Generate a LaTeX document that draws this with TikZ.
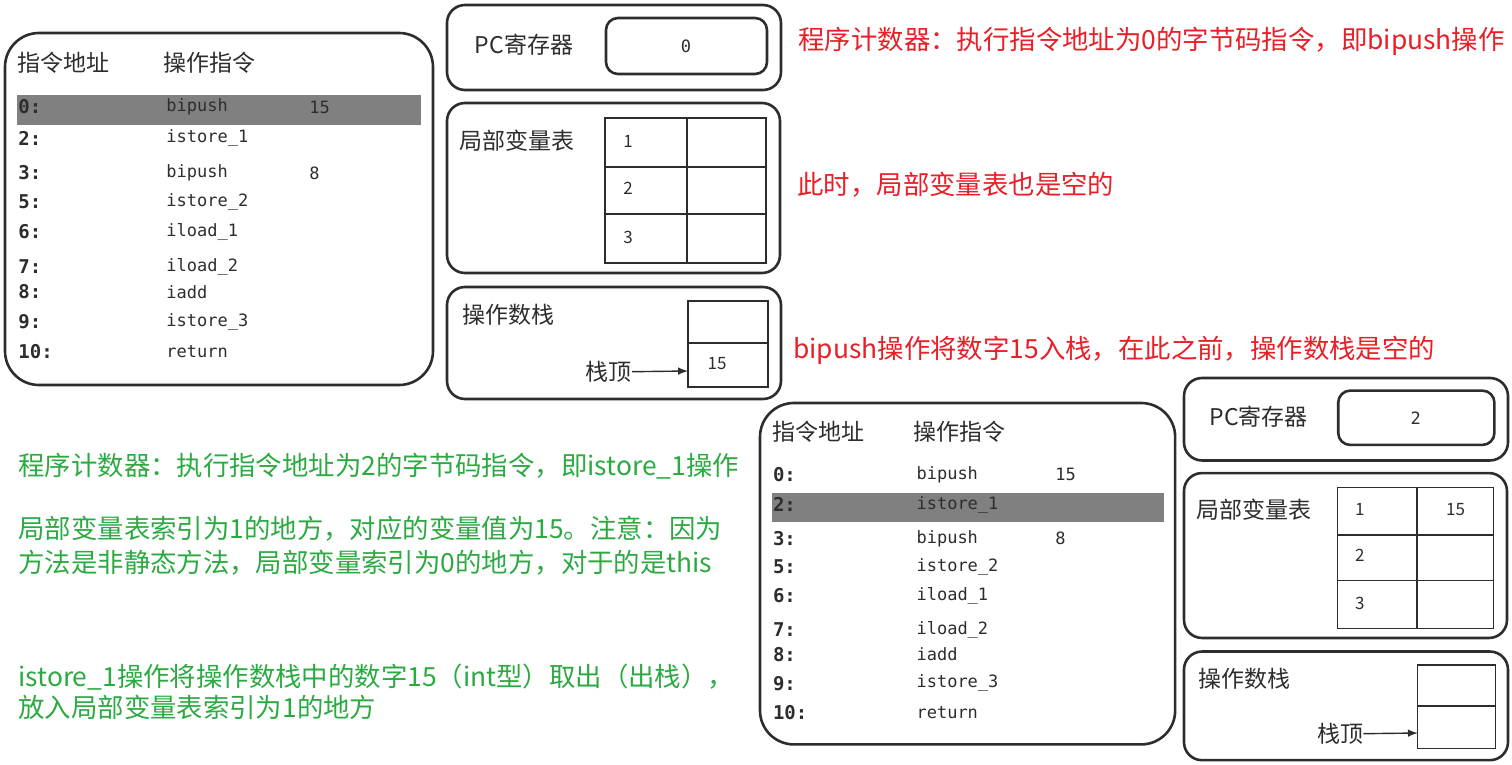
\documentclass[tikz,border=0pt]{standalone}
\usepackage{fontspec}
\setmainfont{Noto Sans CJK SC}
\setmonofont{DejaVu Sans Mono}
\usepackage{xcolor}
\usepackage{tikz}
\usetikzlibrary{arrows, positioning, calc}

\definecolor{notered}{RGB}{234,30,38}
\definecolor{notegreen}{RGB}{44,170,66}
\definecolor{rowgray}{RGB}{128,128,128}
\definecolor{ink}{RGB}{45,45,45}

\tikzset{
  panel/.style={draw=ink, line width=1.3pt, rounded corners=#1},
  panel/.default=9pt,
  tablerule/.style={draw=ink, line width=0.7pt},
  boxlabel/.style={text=ink, inner sep=0pt, font=\fontsize{11.5}{13}\selectfont},
  cellnum/.style={text=ink, inner sep=0pt, font=\fontsize{8.5}{10}\selectfont},
  codetext/.style={text=ink, inner sep=0pt, anchor=west, font=\ttfamily\fontsize{8.5}{10}\selectfont},
  addrtext/.style={codetext, font=\ttfamily\bfseries\fontsize{9.5}{11}\selectfont},
  note/.style={anchor=west, inner sep=0pt, align=left, font=\fontsize{13.2}{17}\selectfont},
  toparrow/.style={draw=ink, line width=0.7pt, -latex}
}

% bytecode listing, #1 = highlighted row
\newcommand{\codelist}[1]{%
  \draw[panel=17pt] (0,0) rectangle (428,352);
  \node[boxlabel, anchor=west] (addr) at (12,30) {指令地址};
  \node[boxlabel, anchor=west] (insn) at (158,30) {操作指令};
  \foreach \ad/\ins/\yy [count=\n] in {0:/bipush/74, 2:/istore\_1/105, 3:/bipush/140,
      5:/istore\_2/169, 6:/iload\_1/199, 7:/iload\_2/234, 8:/iadd/259,
      9:/istore\_3/289, 10:/return/319}{
    \ifnum\n=#1 \fill[rowgray] (12,\yy-12) rectangle (416,\yy+18); \fi
    \node[addrtext] (ad\n) at (13,\yy) {\ad};
    \node[codetext] (op\n) at (161,\yy) {\ins};
  }
  \node[codetext] (arg1) at (304,74) {15};
  \node[codetext] (arg3) at (304,140) {8};
}

% pc / local variables / operand stack, #1 pc, #2 local 1, #3 stack top
\newcommand{\stateview}[3]{%
  \draw[panel] (0,0) rectangle (334,85);
  \node[boxlabel] (pc) at (77,40) {PC寄存器};
  \draw[panel=6pt] (159,13) rectangle (320,69);
  \node[cellnum, font=\ttfamily\fontsize{8.5}{10}\selectfont] (pcval) at (239,41) {#1};
  \draw[panel] (0,98) rectangle (333,268);
  \node[boxlabel, anchor=west] (lvt) at (12,136) {局部变量表};
  \draw[tablerule] (158,113) rectangle (319,258) (240,113) -- (240,258)
    (158,162) -- (319,162) (158,209) -- (319,209);
  \foreach \i/\yy in {1/136, 2/183, 3/232}
    \node[cellnum, anchor=west] (idx\i) at (176,\yy) {\i};
  \node[cellnum] (val1) at (280,136) {#2};
  \draw[panel] (0,282) rectangle (334,394);
  \node[boxlabel, anchor=west] (ops) at (15,310) {操作数栈};
  \draw[tablerule] (241,296) rectangle (321,382) (241,338) -- (321,338);
  \node[cellnum] (slot) at (270,359) {#3};
  \node[boxlabel, anchor=east] (top) at (185,367) {栈顶};
  \coordinate (tip) at (241,366);
  \draw[toparrow] (top) -- (tip);
}

\begin{document}
\begin{tikzpicture}[x=0.5pt, y=-0.5pt]
  \useasboundingbox (0,0) rectangle (1512,765);

  % step 1: bipush 15
  \begin{scope}[shift={(5,33)}, name prefix=a-]
    \codelist{1}
  \end{scope}
  \begin{scope}[shift={(447,5)}, name prefix=a-]
    \stateview{0}{}{15}
  \end{scope}

  \node[note, text=notered] (r1) at (798,41) {程序计数器：执行指令地址为0的字节码指令，即bipush操作};
  \node[note, text=notered] (r2) at (797,185) {此时，局部变量表也是空的};
  \node[note, text=notered] (r3) at (793,350) {bipush操作将数字15入栈，在此之前，操作数栈是空的};

  % step 2: istore_1
  \begin{scope}[shift={(760,403)}, scale=0.97, name prefix=b-]
    \codelist{2}
  \end{scope}
  \begin{scope}[shift={(1184,378)}, scale=0.97, name prefix=b-]
    \stateview{2}{15}{}
  \end{scope}

  \node[note, text=notegreen] (g1) at (18,466) {程序计数器：执行指令地址为2的字节码指令，即istore\_1操作};
  \node[note, text=notegreen] (g2) at (18,546) {局部变量表索引为1的地方，对应的变量值为15。注意：因为\\
    方法是非静态方法，局部变量索引为0的地方，对于的是this};
  \node[note, text=notegreen, font=\fontsize{13.2}{15.5}\selectfont] (g3) at (18,692) {istore\_1操作将操作数栈中的数字15（int型）取出（出栈），\\
    放入局部变量表索引为1的地方};
\end{tikzpicture}
\end{document}
